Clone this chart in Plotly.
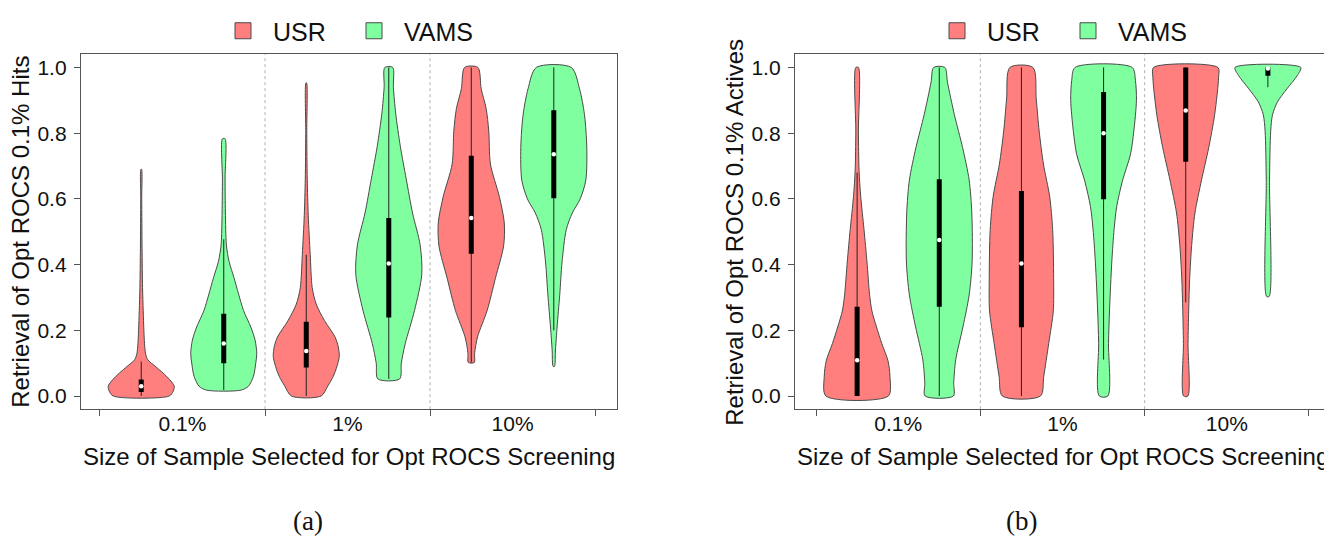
import plotly.graph_objects as go

# ---------------- data ----------------
CATEGORIES = ["0.1%", "1%", "10%"]
GROUPS = ["USR", "VAMS"]

# violin profiles: (value, relative density width) pairs, bottom -> top
A_USR_01 = [(0.0, 0.85), (0.015, 0.97), (0.03, 1.0), (0.05, 0.86), (0.07, 0.66), (0.09, 0.43),
            (0.11, 0.2), (0.13, 0.13), (0.16, 0.1), (0.2, 0.08), (0.26, 0.06), (0.33, 0.04),
            (0.45, 0.025), (0.6, 0.015), (0.69, 0.01)]
A_USR_1 = [(0.0, 0.45), (0.03, 0.65), (0.06, 0.82), (0.09, 0.93), (0.12, 1.0), (0.15, 0.97),
           (0.18, 0.87), (0.23, 0.55), (0.28, 0.3), (0.33, 0.18), (0.43, 0.12), (0.55, 0.06),
           (0.66, 0.03), (0.8, 0.015), (0.953, 0.01)]
A_USR_10 = [(0.102, 0.09), (0.13, 0.1), (0.18, 0.19), (0.26, 0.48), (0.358, 0.73), (0.457, 0.98),
            (0.527, 1.0), (0.607, 0.85), (0.706, 0.58), (0.806, 0.53), (0.875, 0.45),
            (0.935, 0.3), (1.0, 0.2)]
A_VAMS_01 = [(0.018, 0.53), (0.03, 0.75), (0.06, 0.9), (0.1, 0.97), (0.13, 1.0), (0.17, 0.95),
             (0.21, 0.82), (0.26, 0.6), (0.31, 0.45), (0.36, 0.31), (0.41, 0.16), (0.46, 0.08),
             (0.56, 0.05), (0.66, 0.04), (0.783, 0.04)]
A_VAMS_1 = [(0.052, 0.33), (0.1, 0.38), (0.16, 0.5), (0.26, 0.78), (0.37, 1.0), (0.46, 0.95),
            (0.557, 0.72), (0.66, 0.53), (0.76, 0.35), (0.86, 0.21), (0.94, 0.14), (1.0, 0.12)]
A_VAMS_10 = [(0.09, 0.02), (0.14, 0.05), (0.21, 0.1), (0.308, 0.18), (0.408, 0.25), (0.507, 0.38),
             (0.557, 0.56), (0.6, 0.8), (0.657, 0.97), (0.756, 1.0), (0.856, 0.93), (0.935, 0.78),
             (1.0, 0.53)]

B_USR_01 = [(0.0, 0.95), (0.06, 1.0), (0.107, 0.94), (0.16, 0.75), (0.21, 0.59), (0.259, 0.45),
            (0.308, 0.38), (0.408, 0.3), (0.507, 0.21), (0.607, 0.11), (0.686, 0.06),
            (0.806, 0.04), (1.0, 0.04)]
B_USR_1 = [(0.0, 0.58), (0.06, 0.68), (0.16, 0.83), (0.259, 0.97), (0.358, 0.98), (0.507, 0.95),
           (0.607, 0.86), (0.706, 0.67), (0.806, 0.54), (0.905, 0.45), (1.0, 0.35)]
B_USR_10 = [(0.0, 0.065), (0.16, 0.07), (0.259, 0.09), (0.358, 0.12), (0.458, 0.18), (0.557, 0.28),
            (0.657, 0.48), (0.756, 0.7), (0.856, 0.88), (0.97, 1.0), (1.0, 0.98)]
B_VAMS_01 = [(0.0, 0.43), (0.04, 0.44), (0.11, 0.5), (0.21, 0.72), (0.308, 0.91), (0.408, 1.0),
             (0.557, 0.99), (0.657, 0.91), (0.756, 0.71), (0.856, 0.46), (0.955, 0.25), (1.0, 0.17)]
B_VAMS_1 = [(0.0, 0.13), (0.16, 0.15), (0.259, 0.18), (0.408, 0.25), (0.507, 0.32), (0.577, 0.4),
            (0.657, 0.58), (0.736, 0.82), (0.806, 0.92), (0.9, 1.0), (0.96, 0.97), (1.0, 0.87)]
B_VAMS_10 = [(0.303, 0.04), (0.657, 0.05), (0.806, 0.085), (0.856, 0.14), (0.895, 0.29),
             (0.935, 0.58), (0.975, 0.89), (1.0, 1.0)]

# box statistics per category (0.1%, 1%, 10%)
A_USR_Q1 = [0.012, 0.087, 0.433]
A_USR_MED = [0.03, 0.137, 0.542]
A_USR_Q3 = [0.05, 0.226, 0.731]
A_USR_LO = [0.0, 0.0, 0.102]
A_USR_HI = [0.105, 0.43, 1.0]
A_VAMS_Q1 = [0.10, 0.239, 0.602]
A_VAMS_MED = [0.16, 0.403, 0.736]
A_VAMS_Q3 = [0.25, 0.542, 0.87]
A_VAMS_LO = [0.018, 0.052, 0.2]
A_VAMS_HI = [0.477, 1.0, 1.0]

B_USR_Q1 = [0.0, 0.209, 0.713]
B_USR_MED = [0.109, 0.403, 0.869]
B_USR_Q3 = [0.272, 0.624, 1.0]
B_USR_LO = [0.0, 0.0, 0.285]
B_USR_HI = [0.68, 1.0, 1.0]
B_VAMS_Q1 = [0.272, 0.599, 0.975]
B_VAMS_MED = [0.475, 0.8, 0.997]
B_VAMS_Q3 = [0.66, 0.925, 1.0]
B_VAMS_LO = [0.0, 0.111, 0.94]
B_VAMS_HI = [1.0, 1.0, 1.0]

Y_TITLES = ["Retrieval of Opt ROCS 0.1% Hits", "Retrieval of Opt ROCS 0.1% Actives"]
X_TITLE = "Size of Sample Selected for Opt ROCS Screening"
CAPTIONS = ["(a)", "(b)"]

# ---------------- styling ----------------
OFF = 8                      # the page body margin shifts the figure by 8 px
W, H = 1332 - OFF, 536 - OFF
RED = "#FF7F7F"
GREEN = "#7FFF9F"
OUTLINE = "#4a4a4a"
AXIS = "#555555"
FONT = "Liberation Sans, Arial, sans-serif"
TXT = "#111111"
HALF_MAX = 0.2     # max violin half-width in category units
OFFSET = 0.25      # group offset from category centre
BOX_PX = 5         # width of the black IQR bar in pixels


def fx(px):
    return (px - OFF) / W


def fy(py):
    return 1 - (py - OFF) / H


PANELS = [
    dict(violins={"USR": [A_USR_01, A_USR_1, A_USR_10], "VAMS": [A_VAMS_01, A_VAMS_1, A_VAMS_10]},
         stats={"USR": (A_USR_Q1, A_USR_MED, A_USR_Q3, A_USR_LO, A_USR_HI),
                "VAMS": (A_VAMS_Q1, A_VAMS_MED, A_VAMS_Q3, A_VAMS_LO, A_VAMS_HI)},
         px=(81, 617), xrange=[0.385, 3.633], leg=243, cap=307.5),
    dict(violins={"USR": [B_USR_01, B_USR_1, B_USR_10], "VAMS": [B_VAMS_01, B_VAMS_1, B_VAMS_10]},
         stats={"USR": (B_USR_Q1, B_USR_MED, B_USR_Q3, B_USR_LO, B_USR_HI),
                "VAMS": (B_VAMS_Q1, B_VAMS_MED, B_VAMS_Q3, B_VAMS_LO, B_VAMS_HI)},
         px=(795, 1330), xrange=[0.372, 3.628], leg=957, cap=1021),
]
COLORS = {"USR": RED, "VAMS": GREEN}
Y_TOP_PX, Y_BOT_PX = 45, 406.7

fig = go.Figure()
layout = dict(width=W, height=H, margin=dict(l=0, r=0, t=0, b=0),
              paper_bgcolor="white", plot_bgcolor="white", showlegend=True,
              font=dict(family=FONT, color=TXT))
annotations = []
shapes = []

for pi, panel in enumerate(PANELS):
    xa = "x" if pi == 0 else "x2"
    ya = "y" if pi == 0 else "y2"
    xkey = "xaxis" if pi == 0 else "xaxis2"
    ykey = "yaxis" if pi == 0 else "yaxis2"
    legkey = "legend" if pi == 0 else "legend2"

    for gi, g in enumerate(GROUPS):
        sign = -1 if g == "USR" else 1
        pos = [ci + 1 + sign * OFFSET for ci in range(len(CATEGORIES))]
        for ci, prof in enumerate(panel["violins"][g]):
            centre = pos[ci]
            ys = [p[0] for p in prof]
            ws = [p[1] * HALF_MAX for p in prof]
            xs = [centre + w for w in ws] + [centre - w for w in reversed(ws)]
            yy = ys + list(reversed(ys))
            xs.append(xs[0]); yy.append(yy[0])
            fig.add_trace(go.Scatter(x=xs, y=yy, xaxis=xa, yaxis=ya, mode="lines",
                                     fill="toself", fillcolor=COLORS[g],
                                     line=dict(color=OUTLINE, width=1, shape="spline", smoothing=0.8),
                                     showlegend=False, hoverinfo="skip"))
        q1, med, q3, lo, hi = panel["stats"][g]
        # whiskers (thin) and IQR bar (thick), drawn as line segments
        wx, wy, bxs, bys = [], [], [], []
        for c, a, b, l, h in zip(pos, q1, q3, lo, hi):
            wx += [c, c, None]; wy += [l, h, None]
            bxs += [c, c, None]; bys += [a, b, None]
        fig.add_trace(go.Scatter(x=wx, y=wy, xaxis=xa, yaxis=ya, mode="lines",
                                 line=dict(color="#222222", width=1), showlegend=False,
                                 hoverinfo="skip"))
        fig.add_trace(go.Scatter(x=bxs, y=bys, xaxis=xa, yaxis=ya, mode="lines",
                                 line=dict(color="black", width=BOX_PX), showlegend=False,
                                 hoverinfo="skip"))
        fig.add_trace(go.Scatter(x=pos, y=med, xaxis=xa, yaxis=ya, mode="markers",
                                 marker=dict(color="white", size=4.5, line=dict(width=0)),
                                 showlegend=False, hoverinfo="skip"))
        # legend entry
        fig.add_trace(go.Scatter(x=[None], y=[None], xaxis=xa, yaxis=ya, mode="markers", name=g,
                                 marker=dict(symbol="square", size=17, color=COLORS[g],
                                             line=dict(color=OUTLINE, width=1)),
                                 legend=legkey))

    x0, x1 = panel["px"]
    layout[xkey] = dict(domain=[fx(x0), fx(x1)], range=panel["xrange"], anchor=ya,
                        showline=True, mirror=True, linecolor=AXIS, linewidth=1.3,
                        showgrid=False, zeroline=False,
                        tickmode="array", tickvals=[1, 2, 3], ticktext=CATEGORIES, ticks="",
                        ticklabelstandoff=-4,
                        tickfont=dict(size=21, family=FONT, color=TXT),
                        minor=dict(tickmode="array", tickvals=[0.5, 1.5, 2.5, 3.5], ticks="outside",
                                   ticklen=6, tickcolor=AXIS, tickwidth=1, showgrid=False))
    layout[ykey] = dict(domain=[fy(Y_BOT_PX), fy(Y_TOP_PX)], range=[-0.04, 1.04], anchor=xa,
                        showline=True, mirror=True, linecolor=AXIS, linewidth=1.3,
                        showgrid=False, zeroline=False,
                        tickmode="array", tickvals=[0, 0.2, 0.4, 0.6, 0.8, 1.0], tickformat=".1f",
                        ticks="outside", ticklen=6, tickcolor=AXIS, tickwidth=1,
                        ticklabelstandoff=3,
                        tickfont=dict(size=21, family=FONT, color=TXT))
    for bx in (1.5, 2.5):
        shapes.append(dict(type="line", xref=xa, yref=f"{ya} domain", x0=bx, x1=bx, y0=0, y1=1,
                           line=dict(color="#b0b0b0", width=1, dash="dot"), layer="below"))
    xc = (x0 + x1) / 2
    annotations.append(dict(text=Y_TITLES[pi], xref="paper", yref="paper",
                            x=fx(x0 - 60), y=fy((Y_TOP_PX + Y_BOT_PX) / 2),
                            textangle=-90, showarrow=False, xanchor="center", yanchor="middle",
                            font=dict(size=24, family=FONT, color=TXT)))
    annotations.append(dict(text=X_TITLE, xref="paper", yref="paper", x=fx(xc), y=fy(455),
                            showarrow=False, xanchor="center", yanchor="middle",
                            font=dict(size=24, family=FONT, color=TXT)))
    annotations.append(dict(text=CAPTIONS[pi], xref="paper", yref="paper",
                            x=fx(panel["cap"]), y=fy(521),
                            showarrow=False, xanchor="center", yanchor="middle",
                            font=dict(size=27, family="Liberation Serif, Times New Roman, serif",
                                      color=TXT)))
    layout[legkey] = dict(orientation="h", x=fx(panel["leg"] - 30), xanchor="left",
                          y=fy(21), yanchor="middle", entrywidth=66, entrywidthmode="pixels",
                          itemwidth=50,
                          font=dict(size=25, family=FONT, color=TXT), bgcolor="rgba(0,0,0,0)",
                          borderwidth=0, itemsizing="trace")

layout["annotations"] = annotations
layout["shapes"] = shapes
fig.update_layout(**layout)
fig.write_html("out.html")
